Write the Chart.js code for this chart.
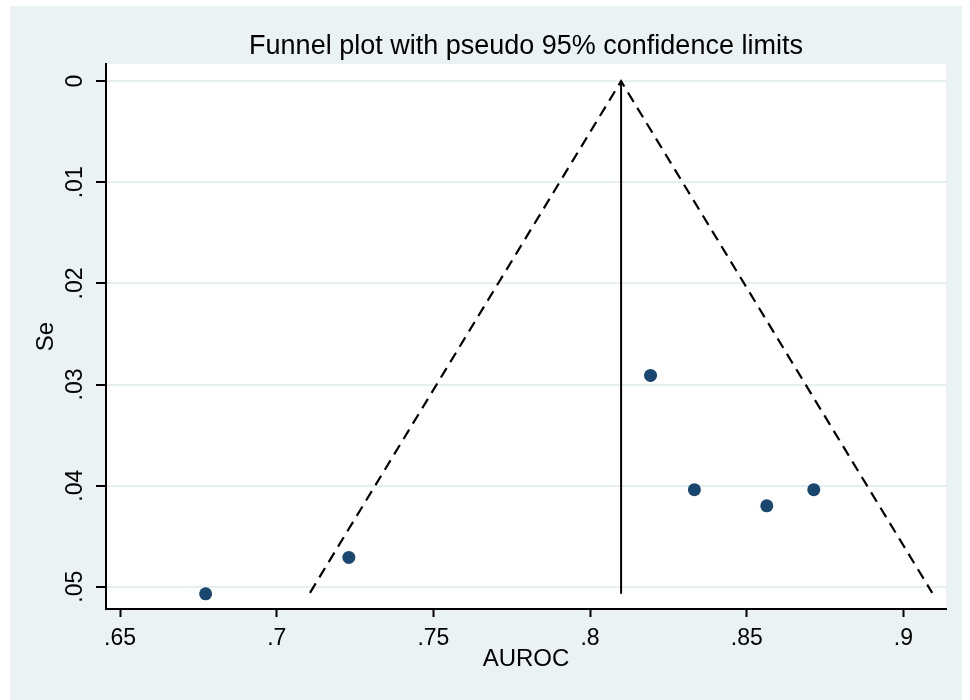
<!DOCTYPE html>
<html>
<head>
<meta charset="utf-8">
<title>Funnel plot</title>
<script src="https://cdn.jsdelivr.net/npm/chart.js@4.4.1/dist/chart.umd.min.js"></script>
<style>
  html, body { margin: 0; padding: 0; background: #ffffff; }
  #wrap { position: absolute; left: 10px; top: 6px; width: 952px; height: 694px; background: #eaf2f3; }
  canvas { display: block; }
</style>
</head>
<body>
<div id="wrap"><canvas id="chart" width="952" height="694"></canvas></div>
<script>
// study estimates
var studyAuroc = [0.6773, 0.7230, 0.8193, 0.8333, 0.8564, 0.8714];
var studySe = [0.0507, 0.0471, 0.0291, 0.0404, 0.0420, 0.0404];

// pooled estimate line and pseudo 95% limits
var pooledX = [0.8099, 0.8099];
var pooledY = [0, 0.0507];
var limitX = [0.7106, 0.8099, 0.9092];
var limitY = [0.0506, 0, 0.0506];

// axes
var aurocTicks = [0.65, 0.7, 0.75, 0.8, 0.85, 0.9];
var aurocTickLabels = ['.65', '.7', '.75', '.8', '.85', '.9'];
var seTicks = [0, 0.01, 0.02, 0.03, 0.04, 0.05];
var seTickLabels = ['0', '.01', '.02', '.03', '.04', '.05'];

function toPoints(xs, ys) {
  return xs.map(function(x, i) {
    return { x: x, y: ys[i] };
  });
}

var plotBackground = {
  id: 'plotBackground',
  beforeDraw: function(chart) {
    var a = chart.chartArea;
    var ctx = chart.ctx;
    ctx.save();
    ctx.fillStyle = '#ffffff';
    ctx.fillRect(a.left, a.top, a.right - a.left, a.bottom - a.top);
    ctx.restore();
  }
};

var font = 'Liberation Sans, Arial, sans-serif';

new Chart(document.getElementById('chart'), {
  type: 'scatter',
  data: {
    datasets: [{
      label: 'limits',
      type: 'line',
      data: toPoints(limitX, limitY),
      borderColor: '#000000',
      borderWidth: 2.2,
      borderDash: [11, 7],
      pointRadius: 0,
      fill: false,
      tension: 0
    }, {
      label: 'pooled',
      type: 'line',
      data: toPoints(pooledX, pooledY),
      borderColor: '#000000',
      borderWidth: 2,
      pointRadius: 0,
      fill: false
    }, {
      label: 'studies',
      data: toPoints(studyAuroc, studySe),
      backgroundColor: '#1a476f',
      borderColor: '#1a476f',
      borderWidth: 0,
      pointRadius: 6.5
    }]
  },
  options: {
    responsive: false,
    animation: false,
    layout: { padding: { left: 0, right: 16, top: 0, bottom: 0 } },
    plugins: {
      legend: { display: false },
      tooltip: { enabled: false },
      title: {
        display: true,
        fullSize: false,
        text: 'Funnel plot with pseudo 95% confidence limits',
        color: '#000000',
        font: { family: font, size: 27, weight: 'normal' },
        padding: { top: 24.8, bottom: 1 }
      }
    },
    scales: {
      x: {
        type: 'linear',
        min: 0.6455,
        max: 0.9136,
        afterBuildTicks: function(scale) {
          scale.ticks = aurocTicks.map(function(v) { return { value: v }; });
        },
        afterFit: function(scale) { scale.height = 91; },
        grid: {
          drawOnChartArea: false,
          tickLength: 8,
          tickColor: '#000000',
          tickWidth: 2
        },
        border: { color: '#000000', width: 2 },
        ticks: {
          color: '#000000',
          font: { family: font, size: 23 },
          padding: 8,
          maxRotation: 0,
          callback: function(v, i) { return aurocTickLabels[i]; }
        },
        title: {
          display: true,
          text: 'AUROC',
          color: '#000000',
          font: { family: font, size: 24 },
          padding: { top: 0, bottom: 26 }
        }
      },
      y: {
        type: 'linear',
        reverse: true,
        min: -0.00168,
        max: 0.0522,
        afterBuildTicks: function(scale) {
          scale.ticks = seTicks.map(function(v) { return { value: v }; });
        },
        afterFit: function(scale) { scale.width = 96; },
        grid: {
          color: '#e6eff1',
          lineWidth: 2,
          tickLength: 10,
          tickColor: '#000000',
          tickWidth: 2
        },
        border: { color: '#000000', width: 2 },
        ticks: {
          color: '#000000',
          font: { family: font, size: 23 },
          padding: 4,
          minRotation: 90,
          maxRotation: 90,
          crossAlign: 'center',
          callback: function(v, i) { return seTickLabels[i]; }
        },
        title: {
          display: true,
          text: 'Se',
          color: '#000000',
          font: { family: font, size: 24 },
          padding: { top: 21.5, bottom: 0 }
        }
      }
    }
  },
  plugins: [plotBackground]
});
</script>
</body>
</html>
